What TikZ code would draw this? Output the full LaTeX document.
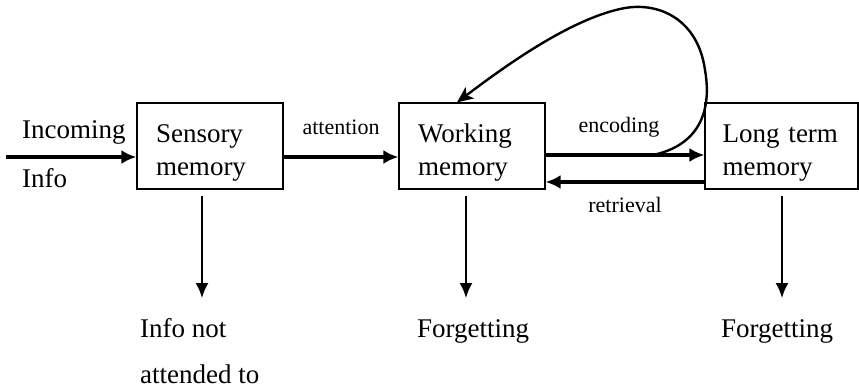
\documentclass[tikz,border=0pt]{standalone}
\usepackage{fontspec}
\setmainfont{Liberation Serif}
\usetikzlibrary{arrows.meta,positioning}

\begin{document}
\begin{tikzpicture}[x=1pt, y=-1pt,
	box/.style={draw, line width=1.2pt, minimum width=146pt, minimum height=86pt, text width=108pt, inner sep=0pt, align=left, font=\fontsize{27}{33}\selectfont, execute at begin node={\rule{0pt}{31pt}}},
	txt/.style={inner sep=0pt, align=left, font=\fontsize{27}{33}\selectfont},
	lbl/.style={inner sep=0pt, font=\fontsize{22}{26}\selectfont},
	flow/.style={line width=3.6pt, -{Latex[length=15pt,width=14pt]}},
	drop/.style={line width=2pt, shorten <=6pt, -{Latex[length=15pt,width=13pt]}},
	loop/.style={line width=2.4pt, -{Stealth[length=16pt,width=14pt,inset=4pt]}}]

	\useasboundingbox (0,0) rectangle (859,389);

	\node[box](SM) at (210,146){Sensory\\memory};
	\node[box, right of=SM, node distance=262pt](WM){Working\\memory};
	\node[box, right of=WM, node distance=309.5pt, minimum width=153pt, text width=118pt](LTM){Long term\\memory};

	\node[txt, anchor=base west](IN1) at (22,138){Incoming};
	\node[txt, anchor=base west](IN2) at (22,187){Info};
	\coordinate(SRC) at (6,157);

	\draw[flow] (SRC) -- (SM.west |- SRC);
	\draw[flow] ([yshift=-11pt]SM.east) -- node[lbl, above=20pt]{attention} ([yshift=-11pt]WM.west);
	\draw[flow] ([yshift=-9pt]WM.east) -- node[lbl, above=16pt, xshift=-6pt]{encoding} ([yshift=-9pt]LTM.west);
	\draw[flow] ([yshift=-36pt]LTM.west) -- node[lbl, below=13pt]{retrieval} ([yshift=-36pt]WM.east);

	% rehearsal loop back into working memory
	\coordinate(ENC) at (653,155);
	\draw[loop] (ENC) .. controls (700,145) and (712,110) .. (705,70)
		.. controls (698,20) and (660,2) .. (625,8)
		.. controls (570,18) and (500,70) .. (WM.109);

	\node[txt, anchor=base west](SMout) at (140,383){Info not\\[13pt]attended to};
	\node[txt, anchor=base west](WMout) at (417,337){Forgetting};
	\node[txt, anchor=base west](LTMout) at (721,337){Forgetting};

	\coordinate(SMd) at (202,298);
	\coordinate(WMd) at (466,298);
	\coordinate(LTMd) at (782,298);
	\draw[drop] (SMd |- SM.south) -- (SMd);
	\draw[drop] (WMd |- WM.south) -- (WMd);
	\draw[drop] (LTMd |- LTM.south) -- (LTMd);
\end{tikzpicture}
\end{document}
